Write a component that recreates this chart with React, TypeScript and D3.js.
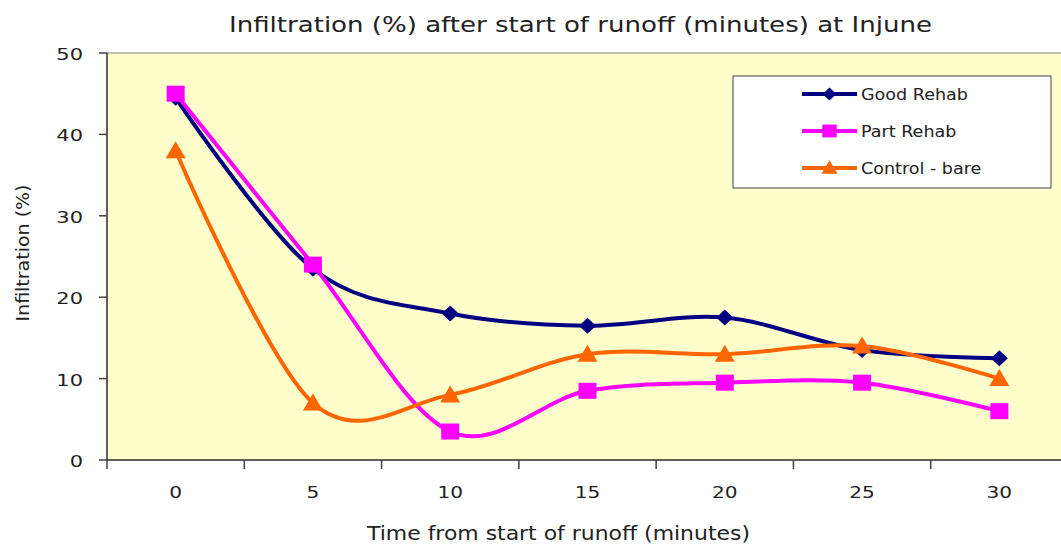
import React from 'react';
import * as d3 from 'd3';

const categories = ['0', '5', '10', '15', '20', '25', '30'];
const goodRehab = [44.5, 23.5, 18, 16.5, 17.5, 13.5, 12.5];
const partRehab = [45, 24, 3.5, 8.5, 9.5, 9.5, 6];
const controlBare = [38, 7, 8, 13, 13, 14, 10];
const yTicks = [0, 10, 20, 30, 40, 50];

const seriesList = [
  { name: 'Good Rehab', values: goodRehab, color: '#000080', marker: 'diamond' },
  { name: 'Part Rehab', values: partRehab, color: '#FF00FF', marker: 'square' },
  { name: 'Control - bare', values: controlBare, color: '#FF6600', marker: 'triangle' },
];

const W = 1061, H = 544;
const plot = { left: 107, top: 53, right: 1068, bottom: 460 };
const font = 'DejaVu Sans, Verdana, sans-serif';

function Marker({ type, x, y, color, small }: { type: string; x: number; y: number; color: string; small?: boolean }) {
  const k = small ? 0.8 : 1;
  if (type === 'diamond') {
    const sx = 8.5 * k, sy = 8 * k;
    return <path d={`M${x},${y - sy}L${x + sx},${y}L${x},${y + sy}L${x - sx},${y}Z`} fill={color} />;
  }
  if (type === 'square') {
    const sx = 9 * k, sy = 8 * k;
    return <rect x={x - sx} y={y - sy} width={2 * sx} height={2 * sy} fill={color} />;
  }
  const sx = 10 * k, sy = 8.5 * k;
  return <path d={`M${x},${y - sy - 1}L${x + sx},${y + sy - 1}L${x - sx},${y + sy - 1}Z`} fill={color} />;
}

function SText({ x, y, size, anchor, sx, children }: { x: number; y: number; size: number; anchor?: string; sx: number; children: React.ReactNode }) {
  return (
    <text transform={`translate(${x},${y}) scale(${sx},1)`} textAnchor={anchor || 'start'} fontFamily={font} fontSize={size} fill="#222">
      {children}
    </text>
  );
}

export default function App() {
  const x = d3.scaleBand<string>().domain(categories).range([plot.left, plot.right]);
  const y = d3.scaleLinear().domain([0, 50]).range([plot.bottom, plot.top]);
  const cx = (c: string) => (x(c) as number) + x.bandwidth() / 2;
  const line = d3
    .line<number>()
    .x((_, i) => cx(categories[i]))
    .y((d) => y(d))
    .curve(d3.curveCatmullRom.alpha(0));

  const legend = { x: 733, y: 76, w: 318, h: 112 };

  return (
    <svg width={W} height={H} style={{ position: 'absolute', left: 0, top: 0, background: '#fff' }}>
      <rect x={plot.left} y={plot.top} width={plot.right - plot.left} height={plot.bottom - plot.top} fill="#FFFFCC" stroke="#808080" strokeWidth={1} />
      {/* y axis */}
      <line x1={plot.left} x2={plot.left} y1={plot.top} y2={plot.bottom} stroke="#404040" strokeWidth={1.5} />
      {yTicks.map((t) => (
        <g key={t}>
          <line x1={plot.left - 8} x2={plot.left} y1={y(t)} y2={y(t)} stroke="#404040" strokeWidth={1.5} />
          <SText x={83} y={y(t) + 7} size={16.5} anchor="end" sx={1.27}>{t}</SText>
        </g>
      ))}
      {/* x axis */}
      <line x1={plot.left} x2={plot.right} y1={plot.bottom} y2={plot.bottom} stroke="#404040" strokeWidth={1.5} />
      {categories.map((c) => (
        <line key={'t' + c} x1={x(c) as number} x2={x(c) as number} y1={plot.bottom} y2={plot.bottom + 9} stroke="#404040" strokeWidth={1.5} />
      ))}
      {categories.map((c) => (
        <SText key={'l' + c} x={cx(c)} y={498} size={16.5} anchor="middle" sx={1.22}>{c}</SText>
      ))}
      {/* series */}
      {seriesList.map((s) => (
        <g key={s.name}>
          <path d={line(s.values) as string} fill="none" stroke={s.color} strokeWidth={4} />
          {s.values.map((v, i) => (
            <Marker key={i} type={s.marker} x={cx(categories[i])} y={y(v)} color={s.color} />
          ))}
        </g>
      ))}
      {/* legend */}
      <rect x={legend.x} y={legend.y} width={legend.w} height={legend.h} fill="#fff" stroke="#404040" strokeWidth={1} />
      {seriesList.map((s, i) => {
        const ly = 94 + i * 37;
        return (
          <g key={'lg' + s.name}>
            <line x1={802} x2={857} y1={ly} y2={ly} stroke={s.color} strokeWidth={4} />
            <Marker type={s.marker} x={829.5} y={ly} color={s.color} small />
            <SText x={861} y={ly + 5.5} size={15} sx={1.17}>{s.name}</SText>
          </g>
        );
      })}
      {/* titles */}
      <text x={229} y={32} textLength={703} lengthAdjust="spacingAndGlyphs" fontFamily={font} fontSize={21.5} fill="#222">Infiltration (%) after start of runoff (minutes) at Injune</text>
      <text x={367} y={540} textLength={383} lengthAdjust="spacingAndGlyphs" fontFamily={font} fontSize={19} fill="#222">Time from start of runoff (minutes)</text>
      <text transform={`translate(29,253) rotate(-90)`} textAnchor="middle" textLength={137} lengthAdjust="spacingAndGlyphs" fontFamily={font} fontSize={17.5} fill="#222">Infiltration (%)</text>
    </svg>
  );
}
